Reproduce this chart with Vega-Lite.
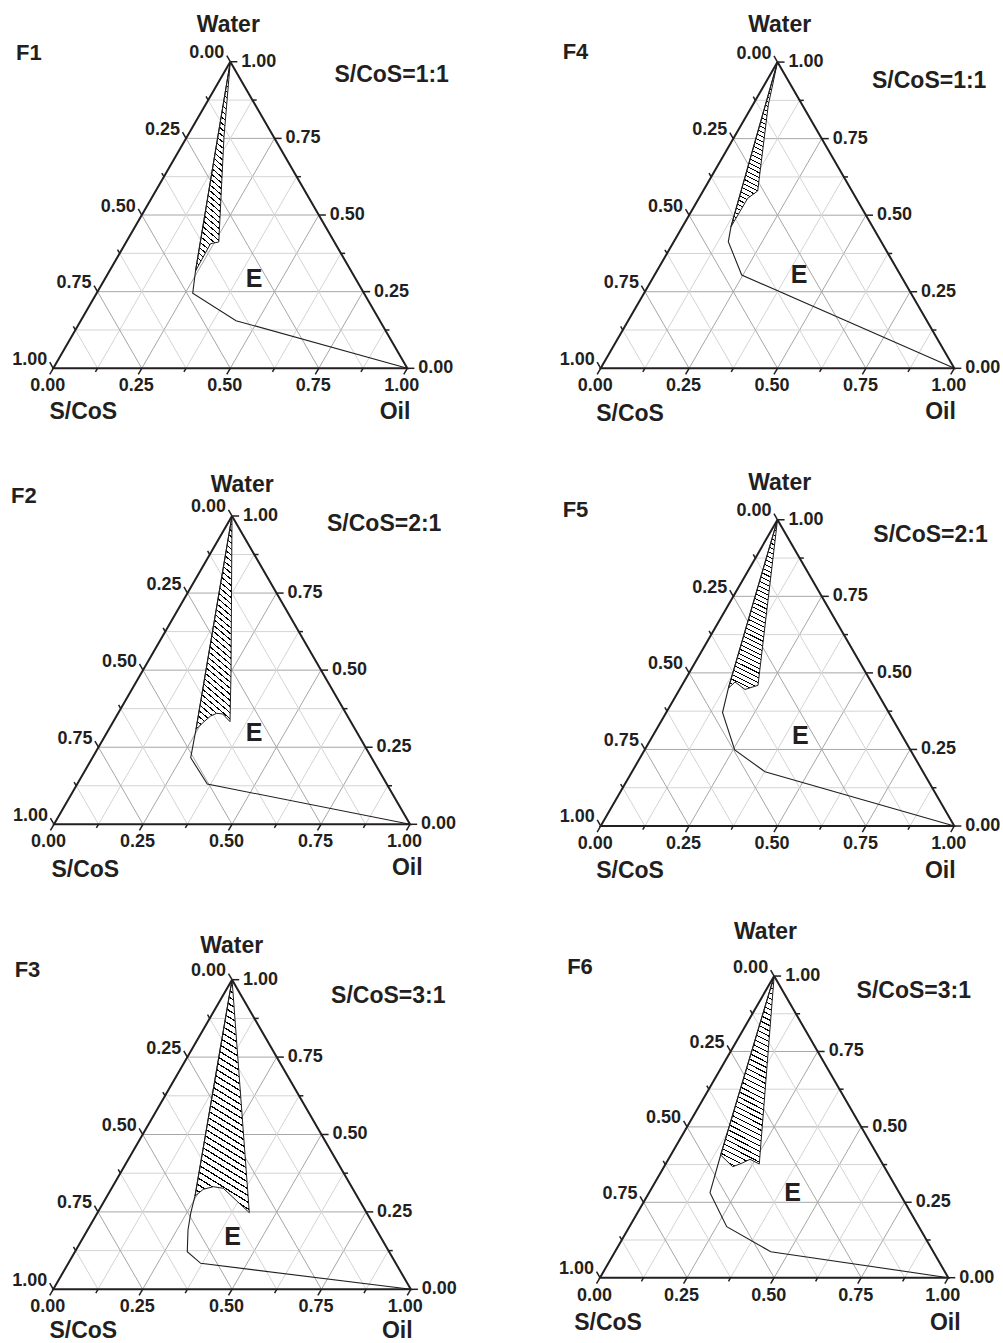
{
"$schema":"https://vega.github.io/schema/vega-lite/v6.json",
"padding":0,"bounds":"flush","spacing":0,"columns":2,
"config":{"view":{"stroke":null},
"text":{"font":"Liberation Sans","fontWeight":"bold","fill":"#231f20","baseline":"alphabetic"},
"style":{"hatch":{"fill":{"gradient":"linear","x1":1,"y1":0,"x2":0.8386,"y2":1.1208,"stops":[
{"offset":0,"color":"#fff"},
{"offset":0.010,"color":"#fff"},{"offset":0.010,"color":"#000"},{"offset":0.0155,"color":"#000"},{"offset":0.0155,"color":"#fff"},
{"offset":0.035,"color":"#fff"},{"offset":0.035,"color":"#000"},{"offset":0.0405,"color":"#000"},{"offset":0.0405,"color":"#fff"},
{"offset":0.060,"color":"#fff"},{"offset":0.060,"color":"#000"},{"offset":0.0655,"color":"#000"},{"offset":0.0655,"color":"#fff"},
{"offset":0.085,"color":"#fff"},{"offset":0.085,"color":"#000"},{"offset":0.0905,"color":"#000"},{"offset":0.0905,"color":"#fff"},
{"offset":0.110,"color":"#fff"},{"offset":0.110,"color":"#000"},{"offset":0.1155,"color":"#000"},{"offset":0.1155,"color":"#fff"},
{"offset":0.135,"color":"#fff"},{"offset":0.135,"color":"#000"},{"offset":0.1405,"color":"#000"},{"offset":0.1405,"color":"#fff"},
{"offset":0.160,"color":"#fff"},{"offset":0.160,"color":"#000"},{"offset":0.1655,"color":"#000"},{"offset":0.1655,"color":"#fff"},
{"offset":0.185,"color":"#fff"},{"offset":0.185,"color":"#000"},{"offset":0.1905,"color":"#000"},{"offset":0.1905,"color":"#fff"},
{"offset":0.210,"color":"#fff"},{"offset":0.210,"color":"#000"},{"offset":0.2155,"color":"#000"},{"offset":0.2155,"color":"#fff"},
{"offset":0.235,"color":"#fff"},{"offset":0.235,"color":"#000"},{"offset":0.2405,"color":"#000"},{"offset":0.2405,"color":"#fff"},
{"offset":0.260,"color":"#fff"},{"offset":0.260,"color":"#000"},{"offset":0.2655,"color":"#000"},{"offset":0.2655,"color":"#fff"},
{"offset":0.285,"color":"#fff"},{"offset":0.285,"color":"#000"},{"offset":0.2905,"color":"#000"},{"offset":0.2905,"color":"#fff"},
{"offset":0.310,"color":"#fff"},{"offset":0.310,"color":"#000"},{"offset":0.3155,"color":"#000"},{"offset":0.3155,"color":"#fff"},
{"offset":0.335,"color":"#fff"},{"offset":0.335,"color":"#000"},{"offset":0.3405,"color":"#000"},{"offset":0.3405,"color":"#fff"},
{"offset":0.360,"color":"#fff"},{"offset":0.360,"color":"#000"},{"offset":0.3655,"color":"#000"},{"offset":0.3655,"color":"#fff"},
{"offset":0.385,"color":"#fff"},{"offset":0.385,"color":"#000"},{"offset":0.3905,"color":"#000"},{"offset":0.3905,"color":"#fff"},
{"offset":0.410,"color":"#fff"},{"offset":0.410,"color":"#000"},{"offset":0.4155,"color":"#000"},{"offset":0.4155,"color":"#fff"},
{"offset":0.435,"color":"#fff"},{"offset":0.435,"color":"#000"},{"offset":0.4405,"color":"#000"},{"offset":0.4405,"color":"#fff"},
{"offset":0.460,"color":"#fff"},{"offset":0.460,"color":"#000"},{"offset":0.4655,"color":"#000"},{"offset":0.4655,"color":"#fff"},
{"offset":0.485,"color":"#fff"},{"offset":0.485,"color":"#000"},{"offset":0.4905,"color":"#000"},{"offset":0.4905,"color":"#fff"},
{"offset":0.510,"color":"#fff"},{"offset":0.510,"color":"#000"},{"offset":0.5155,"color":"#000"},{"offset":0.5155,"color":"#fff"},
{"offset":0.535,"color":"#fff"},{"offset":0.535,"color":"#000"},{"offset":0.5405,"color":"#000"},{"offset":0.5405,"color":"#fff"},
{"offset":0.560,"color":"#fff"},{"offset":0.560,"color":"#000"},{"offset":0.5655,"color":"#000"},{"offset":0.5655,"color":"#fff"},
{"offset":0.585,"color":"#fff"},{"offset":0.585,"color":"#000"},{"offset":0.5905,"color":"#000"},{"offset":0.5905,"color":"#fff"},
{"offset":0.610,"color":"#fff"},{"offset":0.610,"color":"#000"},{"offset":0.6155,"color":"#000"},{"offset":0.6155,"color":"#fff"},
{"offset":0.635,"color":"#fff"},{"offset":0.635,"color":"#000"},{"offset":0.6405,"color":"#000"},{"offset":0.6405,"color":"#fff"},
{"offset":0.660,"color":"#fff"},{"offset":0.660,"color":"#000"},{"offset":0.6655,"color":"#000"},{"offset":0.6655,"color":"#fff"},
{"offset":0.685,"color":"#fff"},{"offset":0.685,"color":"#000"},{"offset":0.6905,"color":"#000"},{"offset":0.6905,"color":"#fff"},
{"offset":0.710,"color":"#fff"},{"offset":0.710,"color":"#000"},{"offset":0.7155,"color":"#000"},{"offset":0.7155,"color":"#fff"},
{"offset":0.735,"color":"#fff"},{"offset":0.735,"color":"#000"},{"offset":0.7405,"color":"#000"},{"offset":0.7405,"color":"#fff"},
{"offset":0.760,"color":"#fff"},{"offset":0.760,"color":"#000"},{"offset":0.7655,"color":"#000"},{"offset":0.7655,"color":"#fff"},
{"offset":0.785,"color":"#fff"},{"offset":0.785,"color":"#000"},{"offset":0.7905,"color":"#000"},{"offset":0.7905,"color":"#fff"},
{"offset":0.810,"color":"#fff"},{"offset":0.810,"color":"#000"},{"offset":0.8155,"color":"#000"},{"offset":0.8155,"color":"#fff"},
{"offset":0.835,"color":"#fff"},{"offset":0.835,"color":"#000"},{"offset":0.8405,"color":"#000"},{"offset":0.8405,"color":"#fff"},
{"offset":0.860,"color":"#fff"},{"offset":0.860,"color":"#000"},{"offset":0.8655,"color":"#000"},{"offset":0.8655,"color":"#fff"},
{"offset":0.885,"color":"#fff"},{"offset":0.885,"color":"#000"},{"offset":0.8905,"color":"#000"},{"offset":0.8905,"color":"#fff"},
{"offset":0.910,"color":"#fff"},{"offset":0.910,"color":"#000"},{"offset":0.9155,"color":"#000"},{"offset":0.9155,"color":"#fff"},
{"offset":0.935,"color":"#fff"},{"offset":0.935,"color":"#000"},{"offset":0.9405,"color":"#000"},{"offset":0.9405,"color":"#fff"},
{"offset":0.960,"color":"#fff"},{"offset":0.960,"color":"#000"},{"offset":0.9655,"color":"#000"},{"offset":0.9655,"color":"#fff"},
{"offset":0.985,"color":"#fff"},{"offset":0.985,"color":"#000"},{"offset":0.9905,"color":"#000"},{"offset":0.9905,"color":"#fff"},
{"offset":1,"color":"#fff"}]}}}},
"datasets":{
"grid":[
{"a":"w","v":0.125},{"a":"w","v":0.25},{"a":"w","v":0.375},{"a":"w","v":0.5},{"a":"w","v":0.625},{"a":"w","v":0.75},{"a":"w","v":0.875},
{"a":"o","v":0.125},{"a":"o","v":0.25},{"a":"o","v":0.375},{"a":"o","v":0.5},{"a":"o","v":0.625},{"a":"o","v":0.75},{"a":"o","v":0.875},
{"a":"s","v":0.125},{"a":"s","v":0.25},{"a":"s","v":0.375},{"a":"s","v":0.5},{"a":"s","v":0.625},{"a":"s","v":0.75},{"a":"s","v":0.875}],
"ticks":[
{"a":"w","v":0},{"a":"w","v":0.125},{"a":"w","v":0.25},{"a":"w","v":0.375},{"a":"w","v":0.5},{"a":"w","v":0.625},{"a":"w","v":0.75},{"a":"w","v":0.875},{"a":"w","v":1},
{"a":"o","v":0},{"a":"o","v":0.125},{"a":"o","v":0.25},{"a":"o","v":0.375},{"a":"o","v":0.5},{"a":"o","v":0.625},{"a":"o","v":0.75},{"a":"o","v":0.875},{"a":"o","v":1},
{"a":"s","v":0},{"a":"s","v":0.125},{"a":"s","v":0.25},{"a":"s","v":0.375},{"a":"s","v":0.5},{"a":"s","v":0.625},{"a":"s","v":0.75},{"a":"s","v":0.875},{"a":"s","v":1}],
"edges":[{"i":0,"water":1,"oil":0},{"i":1,"water":0,"oil":1},{"i":2,"water":0,"oil":0},{"i":3,"water":1,"oil":0}],
"curves":[
{"p":"F1","k":"b","i":0,"water":1,"oil":0},{"p":"F1","k":"b","i":1,"water":0.3174,"oil":0.243},{"p":"F1","k":"b","i":2,"water":0.2447,"oil":0.2715},{"p":"F1","k":"b","i":3,"water":0.1553,"oil":0.4385},{"p":"F1","k":"b","i":4,"water":0,"oil":1},
{"p":"F1","k":"h","i":0,"water":1,"oil":0},{"p":"F1","k":"h","i":1,"water":0.7554,"oil":0.1045},{"p":"F1","k":"h","i":2,"water":0.412,"oil":0.2615},{"p":"F1","k":"h","i":3,"water":0.4064,"oil":0.2409},{"p":"F1","k":"h","i":4,"water":0.3174,"oil":0.243},{"p":"F1","k":"h","i":5,"water":1,"oil":0},
{"p":"F2","k":"b","i":0,"water":1,"oil":0},{"p":"F2","k":"b","i":1,"water":0.3082,"oil":0.2448},{"p":"F2","k":"b","i":2,"water":0.216,"oil":0.276},{"p":"F2","k":"b","i":3,"water":0.1307,"oil":0.3652},{"p":"F2","k":"b","i":4,"water":0,"oil":1},
{"p":"F2","k":"h","i":0,"water":1,"oil":0},{"p":"F2","k":"h","i":1,"water":0.4898,"oil":0.2523},{"p":"F2","k":"h","i":2,"water":0.3328,"oil":0.328},{"p":"F2","k":"h","i":3,"water":0.3578,"oil":0.295},{"p":"F2","k":"h","i":4,"water":0.36,"oil":0.277},{"p":"F2","k":"h","i":5,"water":0.3513,"oil":0.2645},{"p":"F2","k":"h","i":6,"water":0.3328,"oil":0.2549},{"p":"F2","k":"h","i":7,"water":0.3082,"oil":0.2448},{"p":"F2","k":"h","i":8,"water":1,"oil":0},
{"p":"F3","k":"b","i":0,"water":1,"oil":0},{"p":"F3","k":"b","i":1,"water":0.3014,"oil":0.2457},{"p":"F3","k":"b","i":2,"water":0.2455,"oil":0.2615},{"p":"F3","k":"b","i":3,"water":0.1916,"oil":0.281},{"p":"F3","k":"b","i":4,"water":0.1215,"oil":0.314},{"p":"F3","k":"b","i":5,"water":0.084,"oil":0.3703},{"p":"F3","k":"b","i":6,"water":0,"oil":1},
{"p":"F3","k":"h","i":0,"water":1,"oil":0},{"p":"F3","k":"h","i":1,"water":0.2474,"oil":0.4246},{"p":"F3","k":"h","i":2,"water":0.3262,"oil":0.3124},{"p":"F3","k":"h","i":3,"water":0.3314,"oil":0.2819},{"p":"F3","k":"h","i":4,"water":0.323,"oil":0.2581},{"p":"F3","k":"h","i":5,"water":0.3014,"oil":0.2457},{"p":"F3","k":"h","i":6,"water":1,"oil":0},
{"p":"F4","k":"b","i":0,"water":1,"oil":0},{"p":"F4","k":"b","i":1,"water":0.4624,"oil":0.1373},{"p":"F4","k":"b","i":2,"water":0.4134,"oil":0.1542},{"p":"F4","k":"b","i":3,"water":0.3047,"oil":0.2464},{"p":"F4","k":"b","i":4,"water":0,"oil":1},
{"p":"F4","k":"h","i":0,"water":1,"oil":0},{"p":"F4","k":"h","i":1,"water":0.8598,"oil":0.0441},{"p":"F4","k":"h","i":2,"water":0.579,"oil":0.1545},{"p":"F4","k":"h","i":3,"water":0.5552,"oil":0.1381},{"p":"F4","k":"h","i":4,"water":0.4624,"oil":0.1373},{"p":"F4","k":"h","i":5,"water":1,"oil":0},
{"p":"F5","k":"b","i":0,"water":1,"oil":0},{"p":"F5","k":"b","i":1,"water":0.4497,"oil":0.1361},{"p":"F5","k":"b","i":2,"water":0.3706,"oil":0.1592},{"p":"F5","k":"b","i":3,"water":0.2482,"oil":0.2549},{"p":"F5","k":"b","i":4,"water":0.1773,"oil":0.376},{"p":"F5","k":"b","i":5,"water":0,"oil":1},
{"p":"F5","k":"h","i":0,"water":1,"oil":0},{"p":"F5","k":"h","i":1,"water":0.4595,"oil":0.2151},{"p":"F5","k":"h","i":2,"water":0.4458,"oil":0.1852},{"p":"F5","k":"h","i":3,"water":0.4703,"oil":0.1447},{"p":"F5","k":"h","i":4,"water":0.4497,"oil":0.1361},{"p":"F5","k":"h","i":5,"water":1,"oil":0},
{"p":"F6","k":"b","i":0,"water":1,"oil":0},{"p":"F6","k":"b","i":1,"water":0.4068,"oil":0.1431},{"p":"F6","k":"b","i":2,"water":0.2818,"oil":0.1749},{"p":"F6","k":"b","i":3,"water":0.1691,"oil":0.2793},{"p":"F6","k":"b","i":4,"water":0.0862,"oil":0.447},{"p":"F6","k":"b","i":5,"water":0,"oil":1},
{"p":"F6","k":"h","i":0,"water":1,"oil":0},{"p":"F6","k":"h","i":1,"water":0.3769,"oil":0.2689},{"p":"F6","k":"h","i":2,"water":0.3925,"oil":0.2344},{"p":"F6","k":"h","i":3,"water":0.3793,"oil":0.2171},{"p":"F6","k":"h","i":4,"water":0.368,"oil":0.197},{"p":"F6","k":"h","i":5,"water":0.4068,"oil":0.1431},{"p":"F6","k":"h","i":6,"water":1,"oil":0}],
"notes":[
{"p":"F1","kind":"id","text":"F1","x":-0.0691,"y":0.8709},{"p":"F1","kind":"title","text":"Water","x":0.4944,"y":0.9492},{"p":"F1","kind":"title","text":"S/CoS=1:1","x":0.9559,"y":0.8096},{"p":"F1","kind":"title","text":"S/CoS","x":0.0847,"y":-0.1441},{"p":"F1","kind":"title","text":"Oil","x":0.9653,"y":-0.1441},{"p":"F1","kind":"region","text":"E","x":0.567,"y":0.2305},
{"p":"F2","kind":"id","text":"F2","x":-0.0847,"y":0.9017},{"p":"F2","kind":"title","text":"Water","x":0.5287,"y":0.9343},{"p":"F2","kind":"title","text":"S/CoS=2:1","x":0.9275,"y":0.8239},{"p":"F2","kind":"title","text":"S/CoS","x":0.0879,"y":-0.1489},{"p":"F2","kind":"title","text":"Oil","x":0.9924,"y":-0.1424},{"p":"F2","kind":"region","text":"E","x":0.5623,"y":0.234},
{"p":"F3","kind":"id","text":"F3","x":-0.0722,"y":0.8744},{"p":"F3","kind":"title","text":"Water","x":0.499,"y":0.9399},{"p":"F3","kind":"title","text":"S/CoS=3:1","x":0.9371,"y":0.8},{"p":"F3","kind":"title","text":"S/CoS","x":0.0839,"y":-0.136},{"p":"F3","kind":"title","text":"Oil","x":0.962,"y":-0.136},{"p":"F3","kind":"region","text":"E","x":0.5013,"y":0.1239},
{"p":"F4","kind":"id","text":"F4","x":-0.0713,"y":0.8739},{"p":"F4","kind":"title","text":"Water","x":0.5062,"y":0.9502},{"p":"F4","kind":"title","text":"S/CoS=1:1","x":0.929,"y":0.7919},{"p":"F4","kind":"title","text":"S/CoS","x":0.0829,"y":-0.1482},{"p":"F4","kind":"title","text":"Oil","x":0.961,"y":-0.1442},{"p":"F4","kind":"region","text":"E","x":0.5614,"y":0.2404},
{"p":"F5","kind":"id","text":"F5","x":-0.0713,"y":0.8747},{"p":"F5","kind":"title","text":"Water","x":0.5062,"y":0.9502},{"p":"F5","kind":"title","text":"S/CoS=2:1","x":0.9327,"y":0.804},{"p":"F5","kind":"title","text":"S/CoS","x":0.0829,"y":-0.1479},{"p":"F5","kind":"title","text":"Oil","x":0.9604,"y":-0.1479},{"p":"F5","kind":"region","text":"E","x":0.5645,"y":0.2319},
{"p":"F6","kind":"id","text":"F6","x":-0.0574,"y":0.872},{"p":"F6","kind":"title","text":"Water","x":0.4752,"y":0.9716},{"p":"F6","kind":"title","text":"S/CoS=3:1","x":0.901,"y":0.8022},{"p":"F6","kind":"title","text":"S/CoS","x":0.023,"y":-0.1502},{"p":"F6","kind":"title","text":"Oil","x":0.9914,"y":-0.1502},{"p":"F6","kind":"region","text":"E","x":0.5527,"y":0.2202}]
},
"resolve":{"scale":{"x":"independent","y":"independent"}},
"concat":[
{"width":550,"height":457,
"encoding":{"x":{"field":"x","type":"quantitative","axis":null,"scale":{"domain":[-0.15056,1.40311],"nice":false,"zero":false}},"y":{"field":"y","type":"quantitative","axis":null,"scale":{"domain":[-0.25056,1.0404],"nice":false,"zero":false}}},
"layer":[
{"data":{"name":"grid"},"transform":[{"calculate":"datum.a=='w' ? datum.v/2 : datum.a=='o' ? datum.v : 1-datum.v","as":"x"},{"calculate":"datum.a=='w' ? datum.v*0.8660254 : 0","as":"y"},{"calculate":"datum.a=='w' ? 1-datum.v/2 : datum.a=='o' ? (1+datum.v)/2 : (1-datum.v)/2","as":"x2"},{"calculate":"datum.a=='w' ? datum.v*0.8660254 : (1-datum.v)*0.8660254","as":"y2"}],"mark":{"type":"rule","strokeWidth":1},"encoding":{"x2":{"field":"x2"},"y2":{"field":"y2"},"color":{"condition":{"test":"datum.v*4==round(datum.v*4)","value":"#a6a6a6"},"value":"#d4d4d4"}}},
{"data":{"name":"curves"},"transform":[{"filter":"datum.p=='F1' && datum.k=='h'"},{"calculate":"datum.oil+datum.water/2","as":"x"},{"calculate":"datum.water*0.8660254","as":"y"}],"mark":{"type":"line","style":"hatch","stroke":"#231f20","strokeWidth":1},"encoding":{"order":{"field":"i","type":"quantitative"}}},
{"data":{"name":"curves"},"transform":[{"filter":"datum.p=='F1' && datum.k=='b'"},{"calculate":"datum.oil+datum.water/2","as":"x"},{"calculate":"datum.water*0.8660254","as":"y"}],"mark":{"type":"line","stroke":"#231f20","strokeWidth":1.1},"encoding":{"order":{"field":"i","type":"quantitative"}}},
{"data":{"name":"edges"},"transform":[{"calculate":"datum.oil+datum.water/2","as":"x"},{"calculate":"datum.water*0.8660254","as":"y"}],"mark":{"type":"line","stroke":"#231f20","strokeWidth":2,"strokeJoin":"miter"},"encoding":{"order":{"field":"i","type":"quantitative"}}},
{"data":{"name":"ticks"},"transform":[{"calculate":"datum.a=='w' ? 1-datum.v/2 : datum.a=='o' ? datum.v : (1-datum.v)/2","as":"x"},{"calculate":"datum.a=='w' ? datum.v*0.8660254 : datum.a=='o' ? 0 : (1-datum.v)*0.8660254","as":"y"},{"calculate":"datum.v*4==round(datum.v*4) ? 0.02 : 0.012","as":"len"},{"calculate":"datum.x+datum.len*(datum.a=='w' ? 1 : -0.5)","as":"x2"},{"calculate":"datum.y+datum.len*(datum.a=='w' ? 0 : datum.a=='o' ? -0.8660254 : 0.8660254)","as":"y2"}],"mark":{"type":"rule","stroke":"#231f20","strokeWidth":1.5},"encoding":{"x2":{"field":"x2"},"y2":{"field":"y2"}}},
{"data":{"name":"ticks"},"transform":[{"filter":"datum.a=='w' && datum.v*4==round(datum.v*4)"},{"calculate":"1-datum.v/2","as":"x"},{"calculate":"datum.v*0.8660254","as":"y"}],"mark":{"type":"text","align":"left","dx":11,"dy":5,"fontSize":18},"encoding":{"text":{"field":"v","type":"quantitative","format":".2f"}}},
{"data":{"name":"ticks"},"transform":[{"filter":"datum.a=='o' && datum.v*4==round(datum.v*4)"},{"calculate":"datum.v","as":"x"},{"calculate":"0","as":"y"}],"mark":{"type":"text","align":"center","dx":-5.5,"dy":23,"fontSize":18},"encoding":{"text":{"field":"v","type":"quantitative","format":".2f"}}},
{"data":{"name":"ticks"},"transform":[{"filter":"datum.a=='s' && datum.v*4==round(datum.v*4)"},{"calculate":"(1-datum.v)/2","as":"x"},{"calculate":"(1-datum.v)*0.8660254","as":"y"}],"mark":{"type":"text","align":"right","dx":-6,"dy":-3.5,"fontSize":18},"encoding":{"text":{"field":"v","type":"quantitative","format":".2f"}}},
{"data":{"name":"notes"},"transform":[{"filter":"datum.p=='F1' && datum.kind=='id'"}],"mark":{"type":"text","align":"center","fontSize":22},"encoding":{"text":{"field":"text"}}},
{"data":{"name":"notes"},"transform":[{"filter":"datum.p=='F1' && datum.kind=='title'"}],"mark":{"type":"text","align":"center","fontSize":23},"encoding":{"text":{"field":"text"}}},
{"data":{"name":"notes"},"transform":[{"filter":"datum.p=='F1' && datum.kind=='region'"}],"mark":{"type":"text","align":"center","fontSize":25},"encoding":{"text":{"field":"text"}}}
]},
{"width":453,"height":457,
"encoding":{"x":{"field":"x","type":"quantitative","axis":null,"scale":{"domain":[-0.14338,1.13772],"nice":false,"zero":false}},"y":{"field":"y","type":"quantitative","axis":null,"scale":{"domain":[-0.25085,1.04157],"nice":false,"zero":false}}},
"layer":[
{"data":{"name":"grid"},"transform":[{"calculate":"datum.a=='w' ? datum.v/2 : datum.a=='o' ? datum.v : 1-datum.v","as":"x"},{"calculate":"datum.a=='w' ? datum.v*0.8660254 : 0","as":"y"},{"calculate":"datum.a=='w' ? 1-datum.v/2 : datum.a=='o' ? (1+datum.v)/2 : (1-datum.v)/2","as":"x2"},{"calculate":"datum.a=='w' ? datum.v*0.8660254 : (1-datum.v)*0.8660254","as":"y2"}],"mark":{"type":"rule","strokeWidth":1},"encoding":{"x2":{"field":"x2"},"y2":{"field":"y2"},"color":{"condition":{"test":"datum.v*4==round(datum.v*4)","value":"#a6a6a6"},"value":"#d4d4d4"}}},
{"data":{"name":"curves"},"transform":[{"filter":"datum.p=='F4' && datum.k=='h'"},{"calculate":"datum.oil+datum.water/2","as":"x"},{"calculate":"datum.water*0.8660254","as":"y"}],"mark":{"type":"line","style":"hatch","stroke":"#231f20","strokeWidth":1},"encoding":{"order":{"field":"i","type":"quantitative"}}},
{"data":{"name":"curves"},"transform":[{"filter":"datum.p=='F4' && datum.k=='b'"},{"calculate":"datum.oil+datum.water/2","as":"x"},{"calculate":"datum.water*0.8660254","as":"y"}],"mark":{"type":"line","stroke":"#231f20","strokeWidth":1.1},"encoding":{"order":{"field":"i","type":"quantitative"}}},
{"data":{"name":"edges"},"transform":[{"calculate":"datum.oil+datum.water/2","as":"x"},{"calculate":"datum.water*0.8660254","as":"y"}],"mark":{"type":"line","stroke":"#231f20","strokeWidth":2,"strokeJoin":"miter"},"encoding":{"order":{"field":"i","type":"quantitative"}}},
{"data":{"name":"ticks"},"transform":[{"calculate":"datum.a=='w' ? 1-datum.v/2 : datum.a=='o' ? datum.v : (1-datum.v)/2","as":"x"},{"calculate":"datum.a=='w' ? datum.v*0.8660254 : datum.a=='o' ? 0 : (1-datum.v)*0.8660254","as":"y"},{"calculate":"datum.v*4==round(datum.v*4) ? 0.02 : 0.012","as":"len"},{"calculate":"datum.x+datum.len*(datum.a=='w' ? 1 : -0.5)","as":"x2"},{"calculate":"datum.y+datum.len*(datum.a=='w' ? 0 : datum.a=='o' ? -0.8660254 : 0.8660254)","as":"y2"}],"mark":{"type":"rule","stroke":"#231f20","strokeWidth":1.5},"encoding":{"x2":{"field":"x2"},"y2":{"field":"y2"}}},
{"data":{"name":"ticks"},"transform":[{"filter":"datum.a=='w' && datum.v*4==round(datum.v*4)"},{"calculate":"1-datum.v/2","as":"x"},{"calculate":"datum.v*0.8660254","as":"y"}],"mark":{"type":"text","align":"left","dx":11,"dy":5,"fontSize":18},"encoding":{"text":{"field":"v","type":"quantitative","format":".2f"}}},
{"data":{"name":"ticks"},"transform":[{"filter":"datum.a=='o' && datum.v*4==round(datum.v*4)"},{"calculate":"datum.v","as":"x"},{"calculate":"0","as":"y"}],"mark":{"type":"text","align":"center","dx":-5.5,"dy":23,"fontSize":18},"encoding":{"text":{"field":"v","type":"quantitative","format":".2f"}}},
{"data":{"name":"ticks"},"transform":[{"filter":"datum.a=='s' && datum.v*4==round(datum.v*4)"},{"calculate":"(1-datum.v)/2","as":"x"},{"calculate":"(1-datum.v)*0.8660254","as":"y"}],"mark":{"type":"text","align":"right","dx":-6,"dy":-3.5,"fontSize":18},"encoding":{"text":{"field":"v","type":"quantitative","format":".2f"}}},
{"data":{"name":"notes"},"transform":[{"filter":"datum.p=='F4' && datum.kind=='id'"}],"mark":{"type":"text","align":"center","fontSize":22},"encoding":{"text":{"field":"text"}}},
{"data":{"name":"notes"},"transform":[{"filter":"datum.p=='F4' && datum.kind=='title'"}],"mark":{"type":"text","align":"center","fontSize":23},"encoding":{"text":{"field":"text"}}},
{"data":{"name":"notes"},"transform":[{"filter":"datum.p=='F4' && datum.kind=='region'"}],"mark":{"type":"text","align":"center","fontSize":25},"encoding":{"text":{"field":"text"}}}
]},
{"width":550,"height":457,
"encoding":{"x":{"field":"x","type":"quantitative","axis":null,"scale":{"domain":[-0.15169,1.39326],"nice":false,"zero":false}},"y":{"field":"y","type":"quantitative","axis":null,"scale":{"domain":[-0.25197,1.03174],"nice":false,"zero":false}}},
"layer":[
{"data":{"name":"grid"},"transform":[{"calculate":"datum.a=='w' ? datum.v/2 : datum.a=='o' ? datum.v : 1-datum.v","as":"x"},{"calculate":"datum.a=='w' ? datum.v*0.8660254 : 0","as":"y"},{"calculate":"datum.a=='w' ? 1-datum.v/2 : datum.a=='o' ? (1+datum.v)/2 : (1-datum.v)/2","as":"x2"},{"calculate":"datum.a=='w' ? datum.v*0.8660254 : (1-datum.v)*0.8660254","as":"y2"}],"mark":{"type":"rule","strokeWidth":1},"encoding":{"x2":{"field":"x2"},"y2":{"field":"y2"},"color":{"condition":{"test":"datum.v*4==round(datum.v*4)","value":"#a6a6a6"},"value":"#d4d4d4"}}},
{"data":{"name":"curves"},"transform":[{"filter":"datum.p=='F2' && datum.k=='h'"},{"calculate":"datum.oil+datum.water/2","as":"x"},{"calculate":"datum.water*0.8660254","as":"y"}],"mark":{"type":"line","style":"hatch","stroke":"#231f20","strokeWidth":1},"encoding":{"order":{"field":"i","type":"quantitative"}}},
{"data":{"name":"curves"},"transform":[{"filter":"datum.p=='F2' && datum.k=='b'"},{"calculate":"datum.oil+datum.water/2","as":"x"},{"calculate":"datum.water*0.8660254","as":"y"}],"mark":{"type":"line","stroke":"#231f20","strokeWidth":1.1},"encoding":{"order":{"field":"i","type":"quantitative"}}},
{"data":{"name":"edges"},"transform":[{"calculate":"datum.oil+datum.water/2","as":"x"},{"calculate":"datum.water*0.8660254","as":"y"}],"mark":{"type":"line","stroke":"#231f20","strokeWidth":2,"strokeJoin":"miter"},"encoding":{"order":{"field":"i","type":"quantitative"}}},
{"data":{"name":"ticks"},"transform":[{"calculate":"datum.a=='w' ? 1-datum.v/2 : datum.a=='o' ? datum.v : (1-datum.v)/2","as":"x"},{"calculate":"datum.a=='w' ? datum.v*0.8660254 : datum.a=='o' ? 0 : (1-datum.v)*0.8660254","as":"y"},{"calculate":"datum.v*4==round(datum.v*4) ? 0.02 : 0.012","as":"len"},{"calculate":"datum.x+datum.len*(datum.a=='w' ? 1 : -0.5)","as":"x2"},{"calculate":"datum.y+datum.len*(datum.a=='w' ? 0 : datum.a=='o' ? -0.8660254 : 0.8660254)","as":"y2"}],"mark":{"type":"rule","stroke":"#231f20","strokeWidth":1.5},"encoding":{"x2":{"field":"x2"},"y2":{"field":"y2"}}},
{"data":{"name":"ticks"},"transform":[{"filter":"datum.a=='w' && datum.v*4==round(datum.v*4)"},{"calculate":"1-datum.v/2","as":"x"},{"calculate":"datum.v*0.8660254","as":"y"}],"mark":{"type":"text","align":"left","dx":11,"dy":5,"fontSize":18},"encoding":{"text":{"field":"v","type":"quantitative","format":".2f"}}},
{"data":{"name":"ticks"},"transform":[{"filter":"datum.a=='o' && datum.v*4==round(datum.v*4)"},{"calculate":"datum.v","as":"x"},{"calculate":"0","as":"y"}],"mark":{"type":"text","align":"center","dx":-5.5,"dy":23,"fontSize":18},"encoding":{"text":{"field":"v","type":"quantitative","format":".2f"}}},
{"data":{"name":"ticks"},"transform":[{"filter":"datum.a=='s' && datum.v*4==round(datum.v*4)"},{"calculate":"(1-datum.v)/2","as":"x"},{"calculate":"(1-datum.v)*0.8660254","as":"y"}],"mark":{"type":"text","align":"right","dx":-6,"dy":-3.5,"fontSize":18},"encoding":{"text":{"field":"v","type":"quantitative","format":".2f"}}},
{"data":{"name":"notes"},"transform":[{"filter":"datum.p=='F2' && datum.kind=='id'"}],"mark":{"type":"text","align":"center","fontSize":22},"encoding":{"text":{"field":"text"}}},
{"data":{"name":"notes"},"transform":[{"filter":"datum.p=='F2' && datum.kind=='title'"}],"mark":{"type":"text","align":"center","fontSize":23},"encoding":{"text":{"field":"text"}}},
{"data":{"name":"notes"},"transform":[{"filter":"datum.p=='F2' && datum.kind=='region'"}],"mark":{"type":"text","align":"center","fontSize":25},"encoding":{"text":{"field":"text"}}}
]},
{"width":453,"height":457,
"encoding":{"x":{"field":"x","type":"quantitative","axis":null,"scale":{"domain":[-0.14338,1.13772],"nice":false,"zero":false}},"y":{"field":"y","type":"quantitative","axis":null,"scale":{"domain":[-0.24887,1.04355],"nice":false,"zero":false}}},
"layer":[
{"data":{"name":"grid"},"transform":[{"calculate":"datum.a=='w' ? datum.v/2 : datum.a=='o' ? datum.v : 1-datum.v","as":"x"},{"calculate":"datum.a=='w' ? datum.v*0.8660254 : 0","as":"y"},{"calculate":"datum.a=='w' ? 1-datum.v/2 : datum.a=='o' ? (1+datum.v)/2 : (1-datum.v)/2","as":"x2"},{"calculate":"datum.a=='w' ? datum.v*0.8660254 : (1-datum.v)*0.8660254","as":"y2"}],"mark":{"type":"rule","strokeWidth":1},"encoding":{"x2":{"field":"x2"},"y2":{"field":"y2"},"color":{"condition":{"test":"datum.v*4==round(datum.v*4)","value":"#a6a6a6"},"value":"#d4d4d4"}}},
{"data":{"name":"curves"},"transform":[{"filter":"datum.p=='F5' && datum.k=='h'"},{"calculate":"datum.oil+datum.water/2","as":"x"},{"calculate":"datum.water*0.8660254","as":"y"}],"mark":{"type":"line","style":"hatch","stroke":"#231f20","strokeWidth":1},"encoding":{"order":{"field":"i","type":"quantitative"}}},
{"data":{"name":"curves"},"transform":[{"filter":"datum.p=='F5' && datum.k=='b'"},{"calculate":"datum.oil+datum.water/2","as":"x"},{"calculate":"datum.water*0.8660254","as":"y"}],"mark":{"type":"line","stroke":"#231f20","strokeWidth":1.1},"encoding":{"order":{"field":"i","type":"quantitative"}}},
{"data":{"name":"edges"},"transform":[{"calculate":"datum.oil+datum.water/2","as":"x"},{"calculate":"datum.water*0.8660254","as":"y"}],"mark":{"type":"line","stroke":"#231f20","strokeWidth":2,"strokeJoin":"miter"},"encoding":{"order":{"field":"i","type":"quantitative"}}},
{"data":{"name":"ticks"},"transform":[{"calculate":"datum.a=='w' ? 1-datum.v/2 : datum.a=='o' ? datum.v : (1-datum.v)/2","as":"x"},{"calculate":"datum.a=='w' ? datum.v*0.8660254 : datum.a=='o' ? 0 : (1-datum.v)*0.8660254","as":"y"},{"calculate":"datum.v*4==round(datum.v*4) ? 0.02 : 0.012","as":"len"},{"calculate":"datum.x+datum.len*(datum.a=='w' ? 1 : -0.5)","as":"x2"},{"calculate":"datum.y+datum.len*(datum.a=='w' ? 0 : datum.a=='o' ? -0.8660254 : 0.8660254)","as":"y2"}],"mark":{"type":"rule","stroke":"#231f20","strokeWidth":1.5},"encoding":{"x2":{"field":"x2"},"y2":{"field":"y2"}}},
{"data":{"name":"ticks"},"transform":[{"filter":"datum.a=='w' && datum.v*4==round(datum.v*4)"},{"calculate":"1-datum.v/2","as":"x"},{"calculate":"datum.v*0.8660254","as":"y"}],"mark":{"type":"text","align":"left","dx":11,"dy":5,"fontSize":18},"encoding":{"text":{"field":"v","type":"quantitative","format":".2f"}}},
{"data":{"name":"ticks"},"transform":[{"filter":"datum.a=='o' && datum.v*4==round(datum.v*4)"},{"calculate":"datum.v","as":"x"},{"calculate":"0","as":"y"}],"mark":{"type":"text","align":"center","dx":-5.5,"dy":23,"fontSize":18},"encoding":{"text":{"field":"v","type":"quantitative","format":".2f"}}},
{"data":{"name":"ticks"},"transform":[{"filter":"datum.a=='s' && datum.v*4==round(datum.v*4)"},{"calculate":"(1-datum.v)/2","as":"x"},{"calculate":"(1-datum.v)*0.8660254","as":"y"}],"mark":{"type":"text","align":"right","dx":-6,"dy":-3.5,"fontSize":18},"encoding":{"text":{"field":"v","type":"quantitative","format":".2f"}}},
{"data":{"name":"notes"},"transform":[{"filter":"datum.p=='F5' && datum.kind=='id'"}],"mark":{"type":"text","align":"center","fontSize":22},"encoding":{"text":{"field":"text"}}},
{"data":{"name":"notes"},"transform":[{"filter":"datum.p=='F5' && datum.kind=='title'"}],"mark":{"type":"text","align":"center","fontSize":23},"encoding":{"text":{"field":"text"}}},
{"data":{"name":"notes"},"transform":[{"filter":"datum.p=='F5' && datum.kind=='region'"}],"mark":{"type":"text","align":"center","fontSize":25},"encoding":{"text":{"field":"text"}}}
]},
{"width":550,"height":429,
"encoding":{"x":{"field":"x","type":"quantitative","axis":null,"scale":{"domain":[-0.14909,1.38937],"nice":false,"zero":false}},"y":{"field":"y","type":"quantitative","axis":null,"scale":{"domain":[-0.15021,1.04979],"nice":false,"zero":false}}},
"layer":[
{"data":{"name":"grid"},"transform":[{"calculate":"datum.a=='w' ? datum.v/2 : datum.a=='o' ? datum.v : 1-datum.v","as":"x"},{"calculate":"datum.a=='w' ? datum.v*0.8660254 : 0","as":"y"},{"calculate":"datum.a=='w' ? 1-datum.v/2 : datum.a=='o' ? (1+datum.v)/2 : (1-datum.v)/2","as":"x2"},{"calculate":"datum.a=='w' ? datum.v*0.8660254 : (1-datum.v)*0.8660254","as":"y2"}],"mark":{"type":"rule","strokeWidth":1},"encoding":{"x2":{"field":"x2"},"y2":{"field":"y2"},"color":{"condition":{"test":"datum.v*4==round(datum.v*4)","value":"#a6a6a6"},"value":"#d4d4d4"}}},
{"data":{"name":"curves"},"transform":[{"filter":"datum.p=='F3' && datum.k=='h'"},{"calculate":"datum.oil+datum.water/2","as":"x"},{"calculate":"datum.water*0.8660254","as":"y"}],"mark":{"type":"line","style":"hatch","stroke":"#231f20","strokeWidth":1},"encoding":{"order":{"field":"i","type":"quantitative"}}},
{"data":{"name":"curves"},"transform":[{"filter":"datum.p=='F3' && datum.k=='b'"},{"calculate":"datum.oil+datum.water/2","as":"x"},{"calculate":"datum.water*0.8660254","as":"y"}],"mark":{"type":"line","stroke":"#231f20","strokeWidth":1.1},"encoding":{"order":{"field":"i","type":"quantitative"}}},
{"data":{"name":"edges"},"transform":[{"calculate":"datum.oil+datum.water/2","as":"x"},{"calculate":"datum.water*0.8660254","as":"y"}],"mark":{"type":"line","stroke":"#231f20","strokeWidth":2,"strokeJoin":"miter"},"encoding":{"order":{"field":"i","type":"quantitative"}}},
{"data":{"name":"ticks"},"transform":[{"calculate":"datum.a=='w' ? 1-datum.v/2 : datum.a=='o' ? datum.v : (1-datum.v)/2","as":"x"},{"calculate":"datum.a=='w' ? datum.v*0.8660254 : datum.a=='o' ? 0 : (1-datum.v)*0.8660254","as":"y"},{"calculate":"datum.v*4==round(datum.v*4) ? 0.02 : 0.012","as":"len"},{"calculate":"datum.x+datum.len*(datum.a=='w' ? 1 : -0.5)","as":"x2"},{"calculate":"datum.y+datum.len*(datum.a=='w' ? 0 : datum.a=='o' ? -0.8660254 : 0.8660254)","as":"y2"}],"mark":{"type":"rule","stroke":"#231f20","strokeWidth":1.5},"encoding":{"x2":{"field":"x2"},"y2":{"field":"y2"}}},
{"data":{"name":"ticks"},"transform":[{"filter":"datum.a=='w' && datum.v*4==round(datum.v*4)"},{"calculate":"1-datum.v/2","as":"x"},{"calculate":"datum.v*0.8660254","as":"y"}],"mark":{"type":"text","align":"left","dx":11,"dy":5,"fontSize":18},"encoding":{"text":{"field":"v","type":"quantitative","format":".2f"}}},
{"data":{"name":"ticks"},"transform":[{"filter":"datum.a=='o' && datum.v*4==round(datum.v*4)"},{"calculate":"datum.v","as":"x"},{"calculate":"0","as":"y"}],"mark":{"type":"text","align":"center","dx":-5.5,"dy":23,"fontSize":18},"encoding":{"text":{"field":"v","type":"quantitative","format":".2f"}}},
{"data":{"name":"ticks"},"transform":[{"filter":"datum.a=='s' && datum.v*4==round(datum.v*4)"},{"calculate":"(1-datum.v)/2","as":"x"},{"calculate":"(1-datum.v)*0.8660254","as":"y"}],"mark":{"type":"text","align":"right","dx":-6,"dy":-3.5,"fontSize":18},"encoding":{"text":{"field":"v","type":"quantitative","format":".2f"}}},
{"data":{"name":"notes"},"transform":[{"filter":"datum.p=='F3' && datum.kind=='id'"}],"mark":{"type":"text","align":"center","fontSize":22},"encoding":{"text":{"field":"text"}}},
{"data":{"name":"notes"},"transform":[{"filter":"datum.p=='F3' && datum.kind=='title'"}],"mark":{"type":"text","align":"center","fontSize":23},"encoding":{"text":{"field":"text"}}},
{"data":{"name":"notes"},"transform":[{"filter":"datum.p=='F3' && datum.kind=='region'"}],"mark":{"type":"text","align":"center","fontSize":25},"encoding":{"text":{"field":"text"}}}
]},
{"width":453,"height":429,
"encoding":{"x":{"field":"x","type":"quantitative","axis":null,"scale":{"domain":[-0.14356,1.15705],"nice":false,"zero":false}},"y":{"field":"y","type":"quantitative","axis":null,"scale":{"domain":[-0.18748,1.04421],"nice":false,"zero":false}}},
"layer":[
{"data":{"name":"grid"},"transform":[{"calculate":"datum.a=='w' ? datum.v/2 : datum.a=='o' ? datum.v : 1-datum.v","as":"x"},{"calculate":"datum.a=='w' ? datum.v*0.8660254 : 0","as":"y"},{"calculate":"datum.a=='w' ? 1-datum.v/2 : datum.a=='o' ? (1+datum.v)/2 : (1-datum.v)/2","as":"x2"},{"calculate":"datum.a=='w' ? datum.v*0.8660254 : (1-datum.v)*0.8660254","as":"y2"}],"mark":{"type":"rule","strokeWidth":1},"encoding":{"x2":{"field":"x2"},"y2":{"field":"y2"},"color":{"condition":{"test":"datum.v*4==round(datum.v*4)","value":"#a6a6a6"},"value":"#d4d4d4"}}},
{"data":{"name":"curves"},"transform":[{"filter":"datum.p=='F6' && datum.k=='h'"},{"calculate":"datum.oil+datum.water/2","as":"x"},{"calculate":"datum.water*0.8660254","as":"y"}],"mark":{"type":"line","style":"hatch","stroke":"#231f20","strokeWidth":1},"encoding":{"order":{"field":"i","type":"quantitative"}}},
{"data":{"name":"curves"},"transform":[{"filter":"datum.p=='F6' && datum.k=='b'"},{"calculate":"datum.oil+datum.water/2","as":"x"},{"calculate":"datum.water*0.8660254","as":"y"}],"mark":{"type":"line","stroke":"#231f20","strokeWidth":1.1},"encoding":{"order":{"field":"i","type":"quantitative"}}},
{"data":{"name":"edges"},"transform":[{"calculate":"datum.oil+datum.water/2","as":"x"},{"calculate":"datum.water*0.8660254","as":"y"}],"mark":{"type":"line","stroke":"#231f20","strokeWidth":2,"strokeJoin":"miter"},"encoding":{"order":{"field":"i","type":"quantitative"}}},
{"data":{"name":"ticks"},"transform":[{"calculate":"datum.a=='w' ? 1-datum.v/2 : datum.a=='o' ? datum.v : (1-datum.v)/2","as":"x"},{"calculate":"datum.a=='w' ? datum.v*0.8660254 : datum.a=='o' ? 0 : (1-datum.v)*0.8660254","as":"y"},{"calculate":"datum.v*4==round(datum.v*4) ? 0.02 : 0.012","as":"len"},{"calculate":"datum.x+datum.len*(datum.a=='w' ? 1 : -0.5)","as":"x2"},{"calculate":"datum.y+datum.len*(datum.a=='w' ? 0 : datum.a=='o' ? -0.8660254 : 0.8660254)","as":"y2"}],"mark":{"type":"rule","stroke":"#231f20","strokeWidth":1.5},"encoding":{"x2":{"field":"x2"},"y2":{"field":"y2"}}},
{"data":{"name":"ticks"},"transform":[{"filter":"datum.a=='w' && datum.v*4==round(datum.v*4)"},{"calculate":"1-datum.v/2","as":"x"},{"calculate":"datum.v*0.8660254","as":"y"}],"mark":{"type":"text","align":"left","dx":11,"dy":5,"fontSize":18},"encoding":{"text":{"field":"v","type":"quantitative","format":".2f"}}},
{"data":{"name":"ticks"},"transform":[{"filter":"datum.a=='o' && datum.v*4==round(datum.v*4)"},{"calculate":"datum.v","as":"x"},{"calculate":"0","as":"y"}],"mark":{"type":"text","align":"center","dx":-5.5,"dy":23,"fontSize":18},"encoding":{"text":{"field":"v","type":"quantitative","format":".2f"}}},
{"data":{"name":"ticks"},"transform":[{"filter":"datum.a=='s' && datum.v*4==round(datum.v*4)"},{"calculate":"(1-datum.v)/2","as":"x"},{"calculate":"(1-datum.v)*0.8660254","as":"y"}],"mark":{"type":"text","align":"right","dx":-6,"dy":-3.5,"fontSize":18},"encoding":{"text":{"field":"v","type":"quantitative","format":".2f"}}},
{"data":{"name":"notes"},"transform":[{"filter":"datum.p=='F6' && datum.kind=='id'"}],"mark":{"type":"text","align":"center","fontSize":22},"encoding":{"text":{"field":"text"}}},
{"data":{"name":"notes"},"transform":[{"filter":"datum.p=='F6' && datum.kind=='title'"}],"mark":{"type":"text","align":"center","fontSize":23},"encoding":{"text":{"field":"text"}}},
{"data":{"name":"notes"},"transform":[{"filter":"datum.p=='F6' && datum.kind=='region'"}],"mark":{"type":"text","align":"center","fontSize":25},"encoding":{"text":{"field":"text"}}}
]}
]}
